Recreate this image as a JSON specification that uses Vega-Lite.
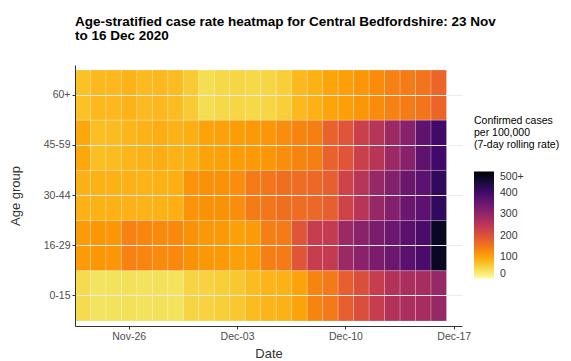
{
  "$schema": "https://vega.github.io/schema/vega-lite/v6.json",
  "width": 387,
  "height": 261,
  "autosize": {"type": "none"},
  "padding": {"left": 75, "top": 65, "right": 109, "bottom": 35},
  "background": "white",
  "title": {
    "text": ["Age-stratified case rate heatmap for Central Bedfordshire: 23 Nov", "to 16 Dec 2020"],
    "anchor": "start",
    "frame": "group",
    "font": "Liberation Sans",
    "fontSize": 13.5,
    "fontWeight": "bold",
    "color": "#000000",
    "lineHeight": 13.5,
    "offset": 23
  },
  "config": {
    "view": {"stroke": null},
    "font": "Liberation Sans"
  },
  "data": {
    "values": [
      {"date":"Nov-23","age":"60+","rate":72},{"date":"Nov-24","age":"60+","rate":80},{"date":"Nov-25","age":"60+","rate":80},{"date":"Nov-26","age":"60+","rate":85},{"date":"Nov-27","age":"60+","rate":78},{"date":"Nov-28","age":"60+","rate":80},{"date":"Nov-29","age":"60+","rate":76},{"date":"Nov-30","age":"60+","rate":62},{"date":"Dec-01","age":"60+","rate":42},{"date":"Dec-02","age":"60+","rate":48},{"date":"Dec-03","age":"60+","rate":50},{"date":"Dec-04","age":"60+","rate":48},{"date":"Dec-05","age":"60+","rate":50},{"date":"Dec-06","age":"60+","rate":58},{"date":"Dec-07","age":"60+","rate":80},{"date":"Dec-08","age":"60+","rate":88},{"date":"Dec-09","age":"60+","rate":100},{"date":"Dec-10","age":"60+","rate":106},{"date":"Dec-11","age":"60+","rate":116},{"date":"Dec-12","age":"60+","rate":126},{"date":"Dec-13","age":"60+","rate":138},{"date":"Dec-14","age":"60+","rate":145},{"date":"Dec-15","age":"60+","rate":152},{"date":"Dec-16","age":"60+","rate":172},
      {"date":"Nov-23","age":"45-59","rate":98},{"date":"Nov-24","age":"45-59","rate":74},{"date":"Nov-25","age":"45-59","rate":76},{"date":"Nov-26","age":"45-59","rate":82},{"date":"Nov-27","age":"45-59","rate":85},{"date":"Nov-28","age":"45-59","rate":92},{"date":"Nov-29","age":"45-59","rate":87},{"date":"Nov-30","age":"45-59","rate":90},{"date":"Dec-01","age":"45-59","rate":102},{"date":"Dec-02","age":"45-59","rate":104},{"date":"Dec-03","age":"45-59","rate":108},{"date":"Dec-04","age":"45-59","rate":112},{"date":"Dec-05","age":"45-59","rate":115},{"date":"Dec-06","age":"45-59","rate":125},{"date":"Dec-07","age":"45-59","rate":135},{"date":"Dec-08","age":"45-59","rate":140},{"date":"Dec-09","age":"45-59","rate":175},{"date":"Dec-10","age":"45-59","rate":195},{"date":"Dec-11","age":"45-59","rate":230},{"date":"Dec-12","age":"45-59","rate":255},{"date":"Dec-13","age":"45-59","rate":290},{"date":"Dec-14","age":"45-59","rate":315},{"date":"Dec-15","age":"45-59","rate":365},{"date":"Dec-16","age":"45-59","rate":400},
      {"date":"Nov-23","age":"30-44","rate":87},{"date":"Nov-24","age":"30-44","rate":88},{"date":"Nov-25","age":"30-44","rate":88},{"date":"Nov-26","age":"30-44","rate":86},{"date":"Nov-27","age":"30-44","rate":85},{"date":"Nov-28","age":"30-44","rate":88},{"date":"Nov-29","age":"30-44","rate":90},{"date":"Nov-30","age":"30-44","rate":118},{"date":"Dec-01","age":"30-44","rate":120},{"date":"Dec-02","age":"30-44","rate":120},{"date":"Dec-03","age":"30-44","rate":125},{"date":"Dec-04","age":"30-44","rate":145},{"date":"Dec-05","age":"30-44","rate":150},{"date":"Dec-06","age":"30-44","rate":160},{"date":"Dec-07","age":"30-44","rate":162},{"date":"Dec-08","age":"30-44","rate":168},{"date":"Dec-09","age":"30-44","rate":180},{"date":"Dec-10","age":"30-44","rate":222},{"date":"Dec-11","age":"30-44","rate":255},{"date":"Dec-12","age":"30-44","rate":295},{"date":"Dec-13","age":"30-44","rate":320},{"date":"Dec-14","age":"30-44","rate":350},{"date":"Dec-15","age":"30-44","rate":368},{"date":"Dec-16","age":"30-44","rate":420},
      {"date":"Nov-23","age":"16-29","rate":110},{"date":"Nov-24","age":"16-29","rate":116},{"date":"Nov-25","age":"16-29","rate":115},{"date":"Nov-26","age":"16-29","rate":138},{"date":"Nov-27","age":"16-29","rate":132},{"date":"Nov-28","age":"16-29","rate":128},{"date":"Nov-29","age":"16-29","rate":130},{"date":"Nov-30","age":"16-29","rate":120},{"date":"Dec-01","age":"16-29","rate":114},{"date":"Dec-02","age":"16-29","rate":112},{"date":"Dec-03","age":"16-29","rate":105},{"date":"Dec-04","age":"16-29","rate":110},{"date":"Dec-05","age":"16-29","rate":142},{"date":"Dec-06","age":"16-29","rate":145},{"date":"Dec-07","age":"16-29","rate":195},{"date":"Dec-08","age":"16-29","rate":235},{"date":"Dec-09","age":"16-29","rate":240},{"date":"Dec-10","age":"16-29","rate":290},{"date":"Dec-11","age":"16-29","rate":312},{"date":"Dec-12","age":"16-29","rate":330},{"date":"Dec-13","age":"16-29","rate":350},{"date":"Dec-14","age":"16-29","rate":370},{"date":"Dec-15","age":"16-29","rate":390},{"date":"Dec-16","age":"16-29","rate":470},
      {"date":"Nov-23","age":"0-15","rate":45},{"date":"Nov-24","age":"0-15","rate":35},{"date":"Nov-25","age":"0-15","rate":37},{"date":"Nov-26","age":"0-15","rate":38},{"date":"Nov-27","age":"0-15","rate":37},{"date":"Nov-28","age":"0-15","rate":38},{"date":"Nov-29","age":"0-15","rate":36},{"date":"Nov-30","age":"0-15","rate":52},{"date":"Dec-01","age":"0-15","rate":53},{"date":"Dec-02","age":"0-15","rate":58},{"date":"Dec-03","age":"0-15","rate":66},{"date":"Dec-04","age":"0-15","rate":76},{"date":"Dec-05","age":"0-15","rate":84},{"date":"Dec-06","age":"0-15","rate":87},{"date":"Dec-07","age":"0-15","rate":102},{"date":"Dec-08","age":"0-15","rate":135},{"date":"Dec-09","age":"0-15","rate":148},{"date":"Dec-10","age":"0-15","rate":180},{"date":"Dec-11","age":"0-15","rate":205},{"date":"Dec-12","age":"0-15","rate":235},{"date":"Dec-13","age":"0-15","rate":262},{"date":"Dec-14","age":"0-15","rate":272},{"date":"Dec-15","age":"0-15","rate":275},{"date":"Dec-16","age":"0-15","rate":295}
    ]
  },
  "mark": {"type": "rect", "stroke": "#ffffff", "strokeWidth": 0.6, "strokeOpacity": 0.35},
  "encoding": {
    "x": {
      "field": "date",
      "type": "ordinal",
      "sort": null,
      "scale": {
        "domain": ["Nov-23","Nov-24","Nov-25","Nov-26","Nov-27","Nov-28","Nov-29","Nov-30","Dec-01","Dec-02","Dec-03","Dec-04","Dec-05","Dec-06","Dec-07","Dec-08","Dec-09","Dec-10","Dec-11","Dec-12","Dec-13","Dec-14","Dec-15","Dec-16","Dec-17"],
        "paddingInner": 0,
        "paddingOuter": 0
      },
      "axis": {
        "title": "Date",
        "values": ["Nov-26","Dec-03","Dec-10","Dec-17"],
        "labelAngle": 0,
        "labelFontSize": 10.5,
        "labelColor": "#4d4d4d",
        "labelPadding": 2,
        "tickSize": 3,
        "tickColor": "#333333",
        "domainColor": "#333333",
        "grid": false,
        "titleFontSize": 13,
        "titleFontWeight": "normal",
        "titleColor": "#333333",
        "titlePadding": 6
      }
    },
    "y": {
      "field": "age",
      "type": "ordinal",
      "scale": {
        "domain": ["60+","45-59","30-44","16-29","0-15"],
        "paddingInner": 0,
        "paddingOuter": 0.1
      },
      "axis": {
        "title": "Age group",
        "labelFontSize": 10.5,
        "labelColor": "#4d4d4d",
        "labelPadding": 2,
        "tickSize": 3,
        "tickColor": "#333333",
        "domainColor": "#333333",
        "grid": true,
        "gridColor": "#ebebeb",
        "gridWidth": 1,
        "titleFontSize": 13,
        "titleFontWeight": "normal",
        "titleColor": "#333333",
        "titleX": -53
      }
    },
    "color": {
      "field": "rate",
      "type": "quantitative",
      "scale": {"scheme": "inferno", "reverse": true, "domain": [0, 500], "clamp": true},
      "legend": {
        "orient": "none",
        "legendX": 399,
        "legendY": 51,
        "title": ["Confirmed cases", "\u00a0per 100,000", "\u00a0(7-day rolling rate)"],
        "titleFontSize": 10.5,
        "titleFontWeight": "normal",
        "titleColor": "#000000",
        "titleLineHeight": 12,
        "titlePadding": 21,
        "gradientLength": 107,
        "gradientThickness": 20,
        "gradientStrokeWidth": 0,
        "values": [0, 100, 200, 300, 400, 500],
        "labelExpr": "datum.value >= 500 ? '500+' : datum.label",
        "labelFontSize": 10.5,
        "labelColor": "#333333",
        "labelOffset": 6
      }
    }
  }
}
